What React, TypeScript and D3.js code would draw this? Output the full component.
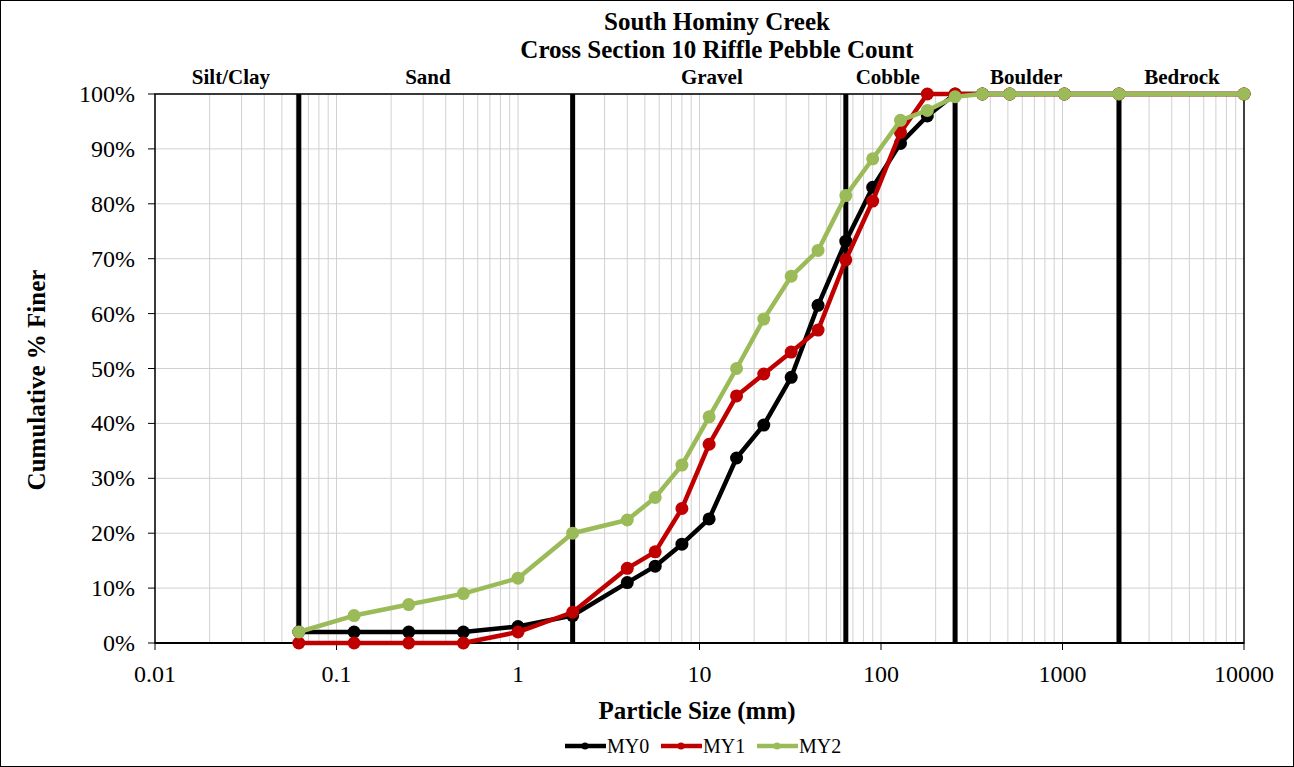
import React from "react";
import * as d3 from "d3";

const sizes = [0.062, 0.125, 0.25, 0.5, 1, 2, 4, 5.7, 8, 11.3, 16, 22.6, 32, 45, 64, 90, 128, 180, 256, 362, 512, 1024, 2048, 10000];
const my0 = [2, 2, 2, 2, 3, 5, 11, 14, 18, 22.6, 33.7, 39.7, 48.4, 61.5, 73.2, 83, 91, 96, 100, 100, 100, 100, 100, 100];
const my1 = [0, 0, 0, 0, 2, 5.6, 13.6, 16.6, 24.5, 36.2, 45, 49, 53, 57, 69.8, 80.5, 93, 100, 100, 100, 100, 100, 100, 100];
const my2 = [2, 5, 7, 9, 11.8, 20, 22.4, 26.5, 32.4, 41.2, 50, 59, 66.8, 71.5, 81.5, 88.2, 95.2, 97, 99.5, 100, 100, 100, 100, 100];
const seriesNames = ["MY0", "MY1", "MY2"];
const seriesColors = ["#000000", "#c00000", "#9bbb59"];
const boundaries = [0.062, 2, 64, 256, 2048];
const classNames = ["Silt/Clay", "Sand", "Gravel", "Cobble", "Boulder", "Bedrock"];
const classCenters = [0.0262, 0.319, 11.7, 109, 630, 4550];
const xTickValues = [0.01, 0.1, 1, 10, 100, 1000, 10000];
const yTickValues = [0, 10, 20, 30, 40, 50, 60, 70, 80, 90, 100];

const W = 1294, H = 767;
const L = 155, R = 1244, T = 94, B = 643;
const FONT = "'Liberation Serif', 'Times New Roman', serif";

export default function App() {
  const x = d3.scaleLog().domain([0.01, 10000]).range([L, R]);
  const y = d3.scaleLinear().domain([0, 100]).range([B, T]);
  const minor: number[] = [];
  for (let e = -2; e < 4; e++) for (let k = 1; k <= 9; k++) minor.push(k * Math.pow(10, e));
  const data = [my0, my1, my2];
  const line = d3.line<[number, number]>().x(d => x(d[0])).y(d => y(d[1]));
  return (
    <svg width={W} height={H} style={{ position: "absolute", left: 0, top: 0, background: "#fff" }} fontFamily={FONT}>
      <rect x={0.5} y={0.5} width={W - 1} height={H - 1} fill="#fff" stroke="#000" strokeWidth={1} />
      <text x={717} y={30} textAnchor="middle" fontWeight="bold" fontSize={25}>South Hominy Creek</text>
      <text x={717} y={58} textAnchor="middle" fontWeight="bold" fontSize={25}>Cross Section 10 Riffle Pebble Count</text>
      {minor.map((v, i) => (
        <line key={"mv" + i} x1={x(v)} x2={x(v)} y1={T} y2={B} stroke="#d0d0d0" strokeWidth={1} />
      ))}
      {yTickValues.map(v => (
        <line key={"gh" + v} x1={L} x2={R} y1={y(v)} y2={y(v)} stroke="#d0d0d0" strokeWidth={1} />
      ))}
      <rect x={L} y={T} width={R - L} height={B - T} fill="none" stroke="#000" strokeWidth={1.5} />
      <line x1={L} x2={R} y1={B} y2={B} stroke="#000" strokeWidth={2} />
      {yTickValues.map(v => (
        <g key={"yt" + v}>
          <line x1={L - 7} x2={L} y1={y(v)} y2={y(v)} stroke="#000" strokeWidth={1} />
          <text x={L - 20} y={y(v) + 8} textAnchor="end" fontSize={24}>{v + "%"}</text>
        </g>
      ))}
      {xTickValues.map(v => (
        <g key={"xt" + v}>
          <line x1={x(v)} x2={x(v)} y1={B} y2={B + 7} stroke="#000" strokeWidth={1} />
          <text x={x(v)} y={B + 39} textAnchor="middle" fontSize={24}>{String(v)}</text>
        </g>
      ))}
      {boundaries.map(v => (
        <line key={"b" + v} x1={x(v)} x2={x(v)} y1={T} y2={B} stroke="#000" strokeWidth={5} />
      ))}
      {classNames.map((n, i) => (
        <text key={n} x={x(classCenters[i])} y={84} textAnchor="middle" fontWeight="bold" fontSize={21}>{n}</text>
      ))}
      {data.map((s, si) => {
        const pts = sizes.map((sz, i) => [sz, s[i]] as [number, number]);
        return (
          <g key={"s" + si}>
            <path d={line(pts) || ""} fill="none" stroke={seriesColors[si]} strokeWidth={4.5} strokeLinejoin="round" />
            {pts.map((p, i) => (
              <circle key={i} cx={x(p[0])} cy={y(p[1])} r={6.5} fill={seriesColors[si]} />
            ))}
          </g>
        );
      })}
      <text x={697} y={719} textAnchor="middle" fontWeight="bold" fontSize={25}>Particle Size (mm)</text>
      <text transform={`translate(45,${380}) rotate(-90)`} textAnchor="middle" fontWeight="bold" fontSize={25}>Cumulative % Finer</text>
      {seriesNames.map((n, i) => {
        const x0 = 565 + i * 96;
        return (
          <g key={n}>
            <line x1={x0} x2={x0 + 41} y1={746} y2={746} stroke={seriesColors[i]} strokeWidth={4.5} />
            <circle cx={x0 + 20} cy={746} r={3.5} fill={seriesColors[i]} />
            <text x={x0 + 42} y={753} fontSize={20}>{n}</text>
          </g>
        );
      })}
    </svg>
  );
}
